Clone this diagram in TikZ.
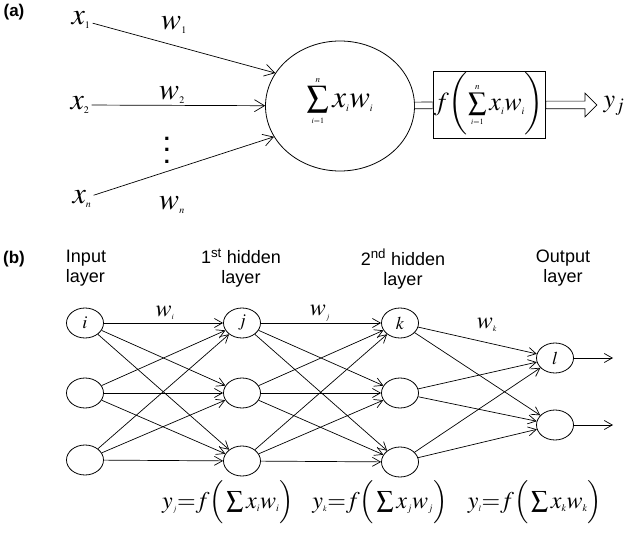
\documentclass[tikz,border=0pt]{standalone}
\usepackage{amsmath}
\usepackage{mathptmx}
\usepackage[no-math]{fontspec}
\setmainfont{Liberation Sans}
\usepackage{tikz}
\usetikzlibrary{positioning,shapes.geometric,shapes.arrows,arrows.meta}
\newcommand{\ssub}[1]{_{\mbox{\fontsize{10}{10}\selectfont$#1$}}}
\newcommand{\tsub}[1]{_{\mbox{\fontsize{8}{8}\selectfont$#1$}}}
% limits close to the sum sign
\newcommand{\dnlim}[1]{_{\raisebox{#1}[0pt][0pt]{\fontsize{8}{8}\selectfont$i{=}1$}}}
\newcommand{\uplim}[1]{^{\raisebox{#1}[0pt][0pt]{\fontsize{9}{9}\selectfont$n$}}}

\begin{document}
\begin{tikzpicture}[x=1pt,y=-1pt,
neu/.style={
	draw,
	ellipse,
	line width=0.8pt,
	minimum width=37pt,
	minimum height=30pt,
	inner sep=0pt,
	font=\fontsize{18}{18}\selectfont
},
bigm/.style={
	inner sep=2pt,
	font=\fontsize{30}{30}\selectfont
},
wlab/.style={
	inner sep=1pt,
	font=\fontsize{24}{24}\selectfont
},
lay/.style={
	align=center,
	font=\fontsize{18}{20}\selectfont
},
form/.style={
	font=\fontsize{24}{24}\selectfont
},
hollow/.style={
	single arrow,
	draw,
	line width=0.7pt,
	inner sep=3.5pt,
	minimum height=51pt,
	single arrow head extend=8pt,
	single arrow head indent=0pt
},
arrA/.style={-{Straight Barb[length=10pt,width=12pt]},line width=0.7pt},
arrB/.style={-{Straight Barb[length=8pt,width=9pt]},line width=0.7pt},
dbl/.style={double,double distance=6pt,line width=0.7pt}
]
\useasboundingbox (0,0) rectangle (627,537);

% (a) single neuron
\node[font=\fontsize{17}{17}\selectfont\bfseries] (ta) at (14,12) {(a)};
\node[bigm] (x1) at (81,20) {$x\ssub{1}$};
\node[bigm] (x2) at (80,105) {$x\ssub{2}$};
\node[bigm] (xn) at (82,199) {$x\ssub{n}$};
\node[bigm] (w1) at (174,25) {$w\ssub{1}$};
\node[bigm] (w2) at (172,95) {$w\ssub{2}$};
\node[bigm] (wn) at (172,205) {$w\ssub{n}$};
\node[align=center,inner sep=0pt,font=\fontsize{22}{11.5}\selectfont\bfseries] (dots) at (167,150) {.\\.\\.};

\node[draw,ellipse,line width=0.8pt,minimum width=149pt,minimum height=130pt,
	font=\fontsize{31}{31}\selectfont] (sum) at (340,106)
{$\sum\limits\dnlim{11pt}\uplim{-5pt} x\ssub{i}w\ssub{i}$};
\node[draw,line width=0.8pt,minimum width=110pt,minimum height=61pt,inner sep=1pt,
	font=\fontsize{26}{26}\selectfont] (fbox) at (489,105)
{$f\!\left(\sum\limits\dnlim{10pt}\uplim{-4pt} x\ssub{i}w\ssub{i}\right)$};
\node[font=\fontsize{26}{26}\selectfont,inner sep=1pt] (yj) at (614,106) {$y_j$};
\node[hollow,anchor=tail] (oarr) at (fbox.east) {};

\draw[arrA] (x1) -- (sum.153);
\draw[arrA] (x2) -- (sum);
\draw[arrA] (xn) -- (sum.205);
\draw[dbl] (sum) -- (fbox);

% (b) network
\node[font=\fontsize{17}{17}\selectfont\bfseries] (tb) at (14,259) {(b)};
\node[lay,align=left] (lin) at (86,268) {Input\\layer};
\node[lay] (lh1) at (241,268) {1\textsuperscript{st} hidden\\layer};
\node[lay] (lh2) at (403,269) {2\textsuperscript{nd} hidden\\layer};
\node[lay] (lout) at (563,268) {Output\\layer};

\node[neu] (i1) at (85,323) {$i$};
\node[neu] (i2) at (85,393) {};
\node[neu] (i3) at (85,460) {};
\node[neu] (h1) at (242,323) {$j$};
\node[neu] (h2) at (242,393) {};
\node[neu] (h3) at (242,461) {};
\node[neu] (g1) at (400,323) {$k$};
\node[neu] (g2) at (400,393) {};
\node[neu] (g3) at (400,462) {};
\node[neu] (o1) at (555,358) {$l$};
\node[neu] (o2) at (555,425) {};
\coordinate (e1) at (613,358);
\coordinate (e2) at (613,425);

\node[wlab] (wi) at (165,313) {$w\tsub{i}$};
\node[wlab] (wj) at (320,313) {$w\tsub{j}$};
\node[wlab] (wk) at (487,325) {$w\tsub{k}$};

\draw[arrB] (i1) -- (h1);
\draw[arrB] (i1) -- (h2);
\draw[arrB] (i1) -- (h3);
\draw[arrB] (i2) -- (h1);
\draw[arrB] (i2) -- (h2);
\draw[arrB] (i2) -- (h3);
\draw[arrB] (i3) -- (h1);
\draw[arrB] (i3) -- (h2);
\draw[arrB] (i3) -- (h3);

\draw[arrB] (h1) -- (g1);
\draw[arrB] (h1) -- (g2);
\draw[arrB] (h1) -- (g3);
\draw[arrB] (h2) -- (g1);
\draw[arrB] (h2) -- (g2);
\draw[arrB] (h2) -- (g3);
\draw[arrB] (h3) -- (g1);
\draw[arrB] (h3) -- (g2);
\draw[arrB] (h3) -- (g3);

\draw[arrB] (g1) -- (o1);
\draw[arrB] (g1) -- (o2);
\draw[arrB] (g2) -- (o1);
\draw[arrB] (g2) -- (o2);
\draw[arrB] (g3) -- (o1);
\draw[arrB] (g3) -- (o2);
\draw[arrB] (o1) -- (e1);
\draw[arrB] (o2) -- (e2);

\node[form] (fj) at (228,502)
{$y\tsub{j}{=}f\Big(\sum x\ssub{i}w\ssub{i}\Big)$};
\node[form] (fk) at (380,502)
{$y\tsub{k}{=}f\Big(\sum x\ssub{j}w\ssub{j}\Big)$};
\node[form] (fl) at (535,502)
{$y\tsub{l}{=}f\Big(\sum x\ssub{k}w\ssub{k}\Big)$};

\end{tikzpicture}
\end{document}
